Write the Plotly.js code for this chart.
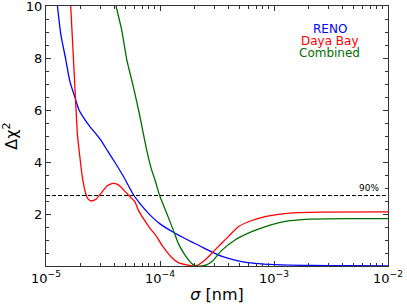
<!DOCTYPE html>
<html><head><meta charset="utf-8">
<script src="https://cdn.plot.ly/plotly-3.0.1.min.js"></script>
<style>html,body{margin:0;padding:0;background:#fff;}#plot{width:407px;height:305px;}</style>
</head><body><div id="plot"></div>
<script>
const renoSigma = [1.26e-5,1.35e-5,1.49e-5,1.62e-5,1.79e-5,1.95e-5,2.20e-5,2.43e-5,2.98e-5,3.48e-5,4.03e-5,4.77e-5,5.83e-5,6.68e-5,7.64e-5,8.68e-5,1.0e-4,1.31e-4,1.72e-4,2.24e-4,2.75e-4,3.50e-4,4.83e-4,6.81e-4,1.02e-3,2.07e-3,4.64e-3,1.0e-2];
const renoChi2  = [10,8.9,7.95,7.1,6.5,6.0,5.62,5.36,4.88,4.42,3.98,3.45,2.75,2.4,2.1,1.85,1.62,1.30,1.02,0.77,0.57,0.37,0.2,0.1,0.05,0.02,0.01,0.0];

const dybSigma = [1.647e-5,1.761e-5,1.882e-5,1.95e-5,2.082e-5,2.23e-5,2.336e-5,2.481e-5,2.729e-5,3.118e-5,3.43e-5,3.855e-5,4.196e-5,4.522e-5,5.104e-5,5.647e-5,6.035e-5,6.45e-5,7.137e-5,8.172e-5,9.357e-5,1.035e-4,1.145e-4,1.266e-4,1.447e-4,1.715e-4,1.948e-4,2.112e-4,2.482e-4,3.038e-4,3.972e-4,4.863e-4,6.374e-4,8.339e-4,1.056e-3,1.477e-3,2.532e-3,1.0e-2];
const dybChi2  = [10,7.55,5.1,4.46,3.43,2.79,2.58,2.5,2.56,2.86,3.08,3.18,3.15,3.05,2.8,2.6,2.47,2.15,1.83,1.45,1.13,0.81,0.55,0.33,0.13,0.04,0.0,0.02,0.23,0.62,1.13,1.51,1.75,1.9,1.98,2.04,2.07,2.08];

const combSigma = [4.112e-5,4.613e-5,5.104e-5,5.833e-5,6.676e-5,7.642e-5,8.457e-5,9.04e-5,1.0e-4,1.145e-4,1.308e-4,1.447e-4,1.657e-4,1.897e-4,2.07e-4,2.336e-4,2.584e-4,2.858e-4,3.477e-4,4.55e-4,6.374e-4,8.056e-4,1.199e-3,2.07e-3,4.64e-3,1.0e-2];
const combChi2  = [10,9.08,7.95,6.9,5.74,4.46,3.69,3.31,2.67,2.03,1.38,0.87,0.42,0.1,0.0,0.0,0.05,0.17,0.6,1.0,1.32,1.49,1.7,1.8,1.82,1.82];

const cl90Sigma = [1e-5, 1e-2];
const cl90Chi2 = [2.71, 2.71];

const xTickVals = [1e-5,1e-4,1e-3,1e-2];
const xTickText = ['10<sup>−5</sup>','10<sup>−4</sup>','10<sup>−3</sup>','10<sup>−2</sup>'];
const yTickVals = [0,2,4,6,8,10];
const yTickText = ['','2','4','6','8','10'];

const font = 'DejaVu Sans, sans-serif';
const traces = [
  {x: renoSigma, y: renoChi2, mode:'lines', line:{color:'#0000ff', width:1.3, shape:'spline', smoothing:0.7}},
  {x: dybSigma, y: dybChi2, mode:'lines', line:{color:'#ff0000', width:1.3, shape:'spline', smoothing:0.4}},
  {x: combSigma, y: combChi2, mode:'lines', line:{color:'#006e00', width:1.3, shape:'spline', smoothing:0.5}},
  {x: cl90Sigma, y: cl90Chi2, mode:'lines', line:{color:'#000', width:1, dash:'4px,2px'}}
];
const axisCommon = {
  showline:true, linecolor:'#333', linewidth:1, mirror:'allticks',
  ticks:'inside', ticklen:5, tickwidth:1, tickcolor:'#333',
  showgrid:false, zeroline:false, ticklabeloverflow:'allow',
  tickfont:{family:font, size:13, color:'#000'}
};
const layout = {
  width:407, height:305,
  margin:{l:46, r:19, t:6, b:39},
  paper_bgcolor:'#fff', plot_bgcolor:'#fff',
  showlegend:false,
  xaxis: Object.assign({}, axisCommon, {
    type:'log', range:[-5,-2],
    tickvals:xTickVals, ticktext:xTickText,
    minor:{ticks:'inside', ticklen:3, tickcolor:'#333', dtick:'D1', showgrid:false},
    title:{text:'<i>σ</i> [nm]', font:{family:font, size:16, color:'#000'}, standoff:4}
  }),
  yaxis: Object.assign({}, axisCommon, {
    range:[0,10],
    tickvals:yTickVals, ticktext:yTickText,
    minor:{ticks:'inside', ticklen:3, tickcolor:'#333', dtick:0.5, showgrid:false},
    title:{text:'Δχ<sup>2</sup>', font:{family:font, size:16, color:'#000'}, standoff:12}
  }),
  annotations:[
    {xref:'paper', yref:'paper', x:0.83, y:0.913, text:'RENO', showarrow:false, font:{family:font, size:12, color:'#0000ff'}, xanchor:'center', yanchor:'middle'},
    {xref:'paper', yref:'paper', x:0.83, y:0.866, text:'Daya Bay', showarrow:false, font:{family:font, size:12, color:'#ff0000'}, xanchor:'center', yanchor:'middle'},
    {xref:'paper', yref:'paper', x:0.83, y:0.818, text:'Combined', showarrow:false, font:{family:font, size:12, color:'#006e00'}, xanchor:'center', yanchor:'middle'},
    {xref:'paper', yref:'y', x:0.98, y:2.71, text:'90%', showarrow:false, font:{family:font, size:9, color:'#000'}, xanchor:'right', yanchor:'bottom', yshift:1}
  ]
};
Plotly.newPlot('plot', traces, layout, {staticPlot:true, displayModeBar:false});
</script>
</body></html>
